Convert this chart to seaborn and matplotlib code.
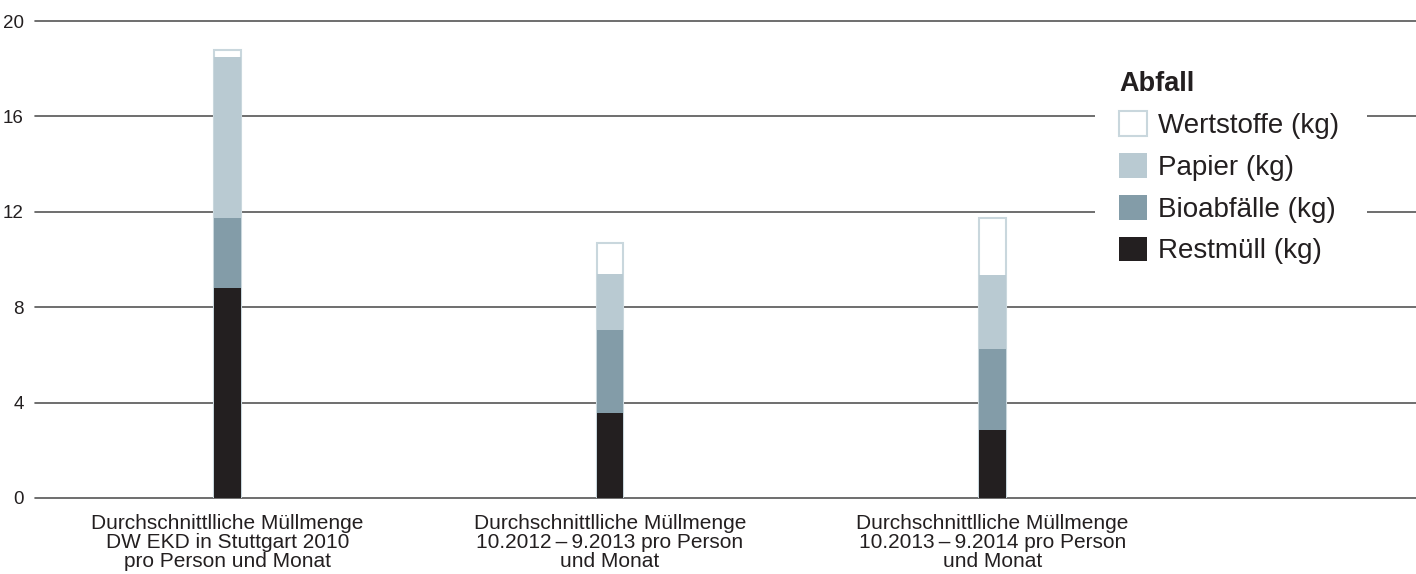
import numpy as np
import pandas as pd
import matplotlib
matplotlib.use("Agg")
import matplotlib.pyplot as plt
from matplotlib.patches import Patch
import seaborn as sns

categories = [
    "Durchschnittlliche Müllmenge\nDW EKD in Stuttgart 2010\npro Person und Monat",
    "Durchschnittlliche Müllmenge\n10.2012\u2009–\u20099.2013 pro Person\nund Monat",
    "Durchschnittlliche Müllmenge\n10.2013\u2009–\u20099.2014 pro Person\nund Monat",
]
restmuell = [8.8, 3.58, 2.85]
bioabfaelle = [2.95, 3.46, 3.4]
papier = [6.75, 2.35, 3.1]
wertstoffe = [0.3, 1.31, 2.4]
series_names = ["Restmüll (kg)", "Bioabfälle (kg)", "Papier (kg)", "Wertstoffe (kg)"]
y_ticks = [0, 4, 8, 12, 16, 20]

colors = {
    "Restmüll (kg)": "#231f20",
    "Bioabfälle (kg)": "#839ca8",
    "Papier (kg)": "#b9cad2",
    "Wertstoffe (kg)": "#ffffff",
}

sns.set_theme(style="white")
plt.rcParams["font.family"] = ["Liberation Sans", "DejaVu Sans"]

fig = plt.figure(figsize=(14.16, 5.74), dpi=100)
ax = fig.add_axes([35 / 1416, 1 - 498 / 574, 1 - 35 / 1416, (498 - 21) / 574])

stack = np.array([restmuell, bioabfaelle, papier, wertstoffe])
cum = np.cumsum(stack, axis=0)

# draw from top (largest cumulative) to bottom so lower segments overlay
for i in range(len(series_names) - 1, -1, -1):
    name = series_names[i]
    df = pd.DataFrame({"cat": categories, "val": cum[i]})
    if name == "Wertstoffe (kg)":
        kw = dict(edgecolor="#c9d7dd", linewidth=1.5)
    else:
        kw = dict(edgecolor="none", linewidth=0)
    sns.barplot(data=df, x="cat", y="val", color=colors[name], width=0.07,
                saturation=1, ax=ax, **kw)

ax.set_xlim(-0.503, 3.107)
ax.set_ylim(0, 20)
ax.set_yticks(y_ticks)
ax.set_yticklabels([str(t) for t in y_ticks])
ax.set_xlabel("")
ax.set_ylabel("")
for s in ax.spines.values():
    s.set_visible(False)
ax.set_axisbelow(True)
ax.grid(axis="y", color="#555555", linewidth=1.2)
ax.grid(axis="x", visible=False)
for gl in ax.get_ygridlines():
    gl.set_clip_on(False)
ax.tick_params(axis="y", length=0, pad=8, labelsize=13.5, labelcolor="#231f20")
ax.tick_params(axis="x", length=0, pad=11.5, labelsize=15, labelcolor="#231f20")
for lab in ax.get_xticklabels():
    lab.set_linespacing(1.0)
    lab.set_horizontalalignment("center")

handles = [
    Patch(facecolor="#ffffff", edgecolor="#c9d7dd", linewidth=1.5, label="Wertstoffe (kg)"),
    Patch(facecolor=colors["Papier (kg)"], edgecolor="none", label="Papier (kg)"),
    Patch(facecolor=colors["Bioabfälle (kg)"], edgecolor="none", label="Bioabfälle (kg)"),
    Patch(facecolor=colors["Restmüll (kg)"], edgecolor="none", label="Restmüll (kg)"),
]
leg = ax.legend(handles=handles, title="Abfall", loc="upper left",
                bbox_to_anchor=(1095 / 1416, 1 - 53 / 574, (1367 - 1095) / 1416, 0.01),
                bbox_transform=fig.transFigure, mode="expand",
                fontsize=20, title_fontproperties={"weight": "bold", "size": 19.5},
                frameon=True, facecolor="white", edgecolor="none", framealpha=1,
                handlelength=1.0, handleheight=1.0, handletextpad=0.42,
                labelspacing=0.5, borderpad=0.86, borderaxespad=0, alignment="left")
for t in leg.get_texts():
    t.set_color("#231f20")
leg.get_title().set_color("#231f20")
leg.get_frame().set_boxstyle("square", pad=0)

fig.savefig("out.png", dpi=100)
